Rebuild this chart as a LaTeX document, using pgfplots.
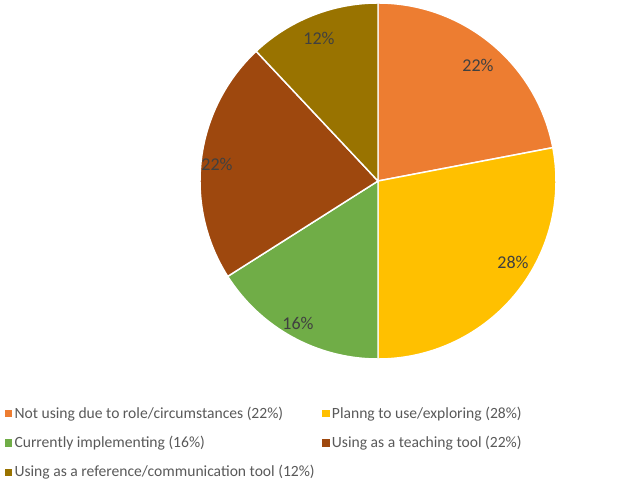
\documentclass[border=0pt]{standalone}
\usepackage{pgfplots}
\pgfplotsset{compat=1.18}
\usepackage{fontspec}
\setmainfont{Carlito}

\definecolor{pieorange}{HTML}{ED7D31}
\definecolor{pieyellow}{HTML}{FFC000}
\definecolor{piegreen}{HTML}{70AD47}
\definecolor{piebrown}{HTML}{9E480E}
\definecolor{pieolive}{HTML}{997300}
\definecolor{lbl}{HTML}{404040}
\definecolor{legtext}{HTML}{595959}

% #1 = cumulative percent before this slice, #2 = percent, #3 = colour
\newcommand{\slice}[3]{%
  \filldraw[#3, draw=white, line width=1.1pt]
    (axis cs:378,303) -- ++({90-3.6*#1}:133.5pt)
    arc[start angle={90-3.6*#1}, delta angle={-3.6*#2}, radius=133.5pt] -- cycle;}

\begin{document}
\begin{tikzpicture}
\begin{axis}[
    scale only axis,
    width=471pt, height=363pt,
    xmin=0, xmax=628, ymin=0, ymax=484,
    hide axis,
    clip=false,
    legend columns=2,
    legend cell align=left,
    legend style={at={(axis cs:2,83)}, anchor=north west, draw=none, fill=none,
      font=\fontsize{11.7}{14}\selectfont, text=legtext,
      /tikz/every even column/.append style={column sep=3.7pt},
      row sep=8pt, inner sep=2pt},
    legend image code/.code={\fill[#1] (0pt,-2.4pt) rectangle (4.8pt,2.4pt);},
]
\path (axis cs:0,0) rectangle (axis cs:628,484);
% slices: 22, 28, 16, 22, 12 (percent), clockwise from 12 o'clock
\slice{0}{22}{pieorange}
\slice{22}{28}{pieyellow}
\slice{50}{16}{piegreen}
\slice{66}{22}{piebrown}
\slice{88}{12}{pieolive}

\begin{scope}[every node/.style={text=lbl, font=\fontsize{13.5}{16}\selectfont}]
\node at (axis cs:478,419) {22\%};
\node at (axis cs:513,222) {28\%};
\node at (axis cs:298,161) {16\%};
\node at (axis cs:217,320) {22\%};
\node at (axis cs:319,446) {12\%};
\end{scope}

\addlegendimage{pieorange}
\addlegendentry{Not using due to role/circumstances (22\%)}
\addlegendimage{pieyellow}
\addlegendentry{Planng to use/exploring (28\%)}
\addlegendimage{piegreen}
\addlegendentry{Currently implementing (16\%)}
\addlegendimage{piebrown}
\addlegendentry{Using as a teaching tool (22\%)}
\addlegendimage{pieolive}
\addlegendentry{Using as a reference/communication tool (12\%)}
\end{axis}
\end{tikzpicture}
\end{document}
